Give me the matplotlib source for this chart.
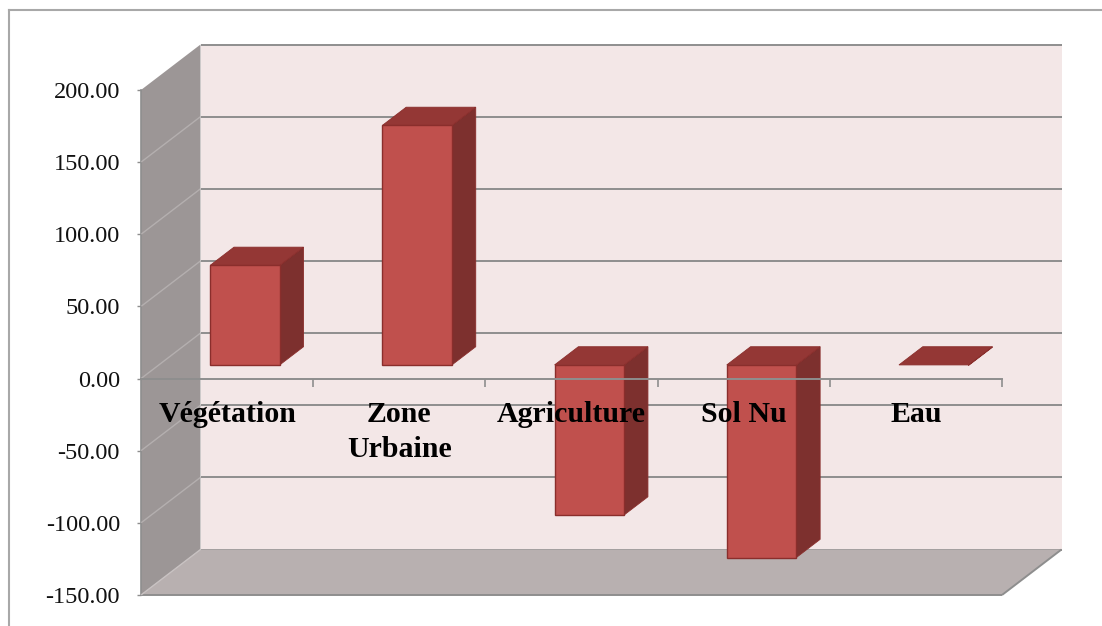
import matplotlib
matplotlib.use("Agg")
import matplotlib.pyplot as plt
from matplotlib.patches import Polygon
from matplotlib.lines import Line2D

# --- data -------------------------------------------------------------
categories = ["Végétation", "Zone\nUrbaine", "Agriculture", "Sol Nu", "Eau"]
values = [69.0, 166.0, -104.0, -133.5, -0.4]
y_ticks = [-150, -100, -50, 0, 50, 100, 150, 200]
y_tick_labels = [f"{v:.2f}" for v in y_ticks]

# --- style ------------------------------------------------------------
plt.rcParams["font.family"] = ["Liberation Serif", "DejaVu Serif"]
plt.rcParams["axes.unicode_minus"] = False

WALL_BACK = "#F3E7E7"
WALL_SIDE = "#9C9696"
FLOOR = "#B8B0B0"
GRID = "#8E8E8E"
GRID_SIDE = "#B4AFAF"
BAR_FRONT = "#C0504D"
BAR_TOP = "#943735"
BAR_SIDE = "#7D302E"
BAR_EDGE = "#8A2E2C"

W, H, DPI = 1102, 626, 100
fig = plt.figure(figsize=(W / DPI, H / DPI), dpi=DPI)
fig.patch.set_facecolor("white")

# front plane of the 3-D box (pixels)
L, R, T, B = 141, 1002, 90, 595
ax = fig.add_axes([L / W, 1 - B / H, (R - L) / W, (B - T) / H])
ax.set_xlim(0, len(categories))
ax.set_ylim(y_ticks[0], y_ticks[-1])
ax.set_facecolor("none")

# oblique depth of the box, given in pixels and converted to data units
DEPTH_PX = (59.5, 45.5)
px_per_x = (R - L) / len(categories)
px_per_y = (B - T) / (y_ticks[-1] - y_ticks[0])
DX = DEPTH_PX[0] / px_per_x
DY = DEPTH_PX[1] / px_per_y


def P(x, y, d):
    """Project a point (category x, value y, depth d in 0..1) to data coords."""
    return (x + d * DX, y + d * DY)


def poly(points, fc, z, ec="none", lw=0.0):
    ax.add_patch(Polygon(points, closed=True, facecolor=fc, edgecolor=ec,
                         linewidth=lw, zorder=z, clip_on=False,
                         joinstyle="miter"))


def seg(p, q, color, lw, z):
    ax.add_line(Line2D([p[0], q[0]], [p[1], q[1]], color=color, lw=lw,
                       zorder=z, clip_on=False, solid_capstyle="butt"))


n = len(categories)
ymin, ymax = y_ticks[0], y_ticks[-1]

# back wall with its gridlines
poly([P(0, ymin, 1), P(n, ymin, 1), P(n, ymax, 1), P(0, ymax, 1)], WALL_BACK, 0.1)
for v in y_ticks:
    seg(P(0, v, 1), P(n, v, 1), GRID, 1.4, 0.2)

# side wall with its gridlines
poly([P(0, ymin, 0), P(0, ymin, 1), P(0, ymax, 1), P(0, ymax, 0)], WALL_SIDE, 0.3)
for v in y_ticks[1:-1]:
    seg(P(0, v, 0), P(0, v, 1), GRID_SIDE, 1.0, 0.4)

# floor
poly([P(0, ymin, 0), P(n, ymin, 0), P(n, ymin, 1), P(0, ymin, 1)], FLOOR, 0.5)
seg(P(0, ymin, 0), P(n, ymin, 0), GRID, 1.4, 0.6)
seg(P(n, ymin, 0), P(n, ymin, 1), GRID, 1.4, 0.6)
seg(P(0, ymin, 0), P(0, ymin, 1), "#C8C2C2", 1.0, 0.6)

# 3-D bars
BAR_W = 0.404
D0, D1 = 0.30, 0.70
for i, v in enumerate(values):
    x0 = i + 0.5 - BAR_W / 2
    x1 = x0 + BAR_W
    lo, hi = min(0.0, v), max(0.0, v)
    poly([P(x1, lo, D0), P(x1, lo, D1), P(x1, hi, D1), P(x1, hi, D0)],
         BAR_SIDE, 2.0, BAR_EDGE, 0.6)
    poly([P(x0, hi, D0), P(x1, hi, D0), P(x1, hi, D1), P(x0, hi, D1)],
         BAR_TOP, 2.0, BAR_EDGE, 0.6)
    if hi - lo > 1:
        poly([P(x0, lo, D0), P(x1, lo, D0), P(x1, hi, D0), P(x0, hi, D0)],
             BAR_FRONT, 2.1, BAR_EDGE, 1.0)

# axes: value axis on the left edge, category axis at zero
for side in ("top", "right"):
    ax.spines[side].set_visible(False)
ax.spines["left"].set_color(GRID)
ax.spines["left"].set_linewidth(1.2)
ax.spines["left"].set_zorder(0.35)
ax.spines["bottom"].set_position(("data", 0))
ax.spines["bottom"].set_color(GRID)
ax.spines["bottom"].set_linewidth(1.4)
ax.spines["bottom"].set_zorder(3)
ax.xaxis.set_zorder(3)

ax.set_yticks(y_ticks)
ax.set_yticklabels(y_tick_labels)
ax.tick_params(axis="y", which="major", length=3.2, width=1.0, color=GRID,
               pad=12.0, labelsize=17.5, labelcolor="#111111")

ax.set_xticks(range(1, n + 1))
ax.set_xticklabels([""] * n)
ax.tick_params(axis="x", which="major", length=5.5, width=1.2, color=GRID,
               direction="out")
ax.set_xticks([i + 0.5 for i in range(n)], minor=True)
ax.set_xticklabels(categories, minor=True, fontweight="bold", fontsize=21.5,
                   linespacing=1.34)
ax.tick_params(axis="x", which="minor", length=0, pad=16.5, labelcolor="black")

# chart frame
fig.add_artist(Line2D([8.5 / W, 8.5 / W], [0, 1 - 9.5 / H],
                      transform=fig.transFigure, color="#A8A8A8", lw=1.5))
fig.add_artist(Line2D([8.5 / W, 1], [1 - 9.5 / H, 1 - 9.5 / H],
                      transform=fig.transFigure, color="#A8A8A8", lw=1.5))

fig.savefig("out.png", dpi=DPI, facecolor="white")
